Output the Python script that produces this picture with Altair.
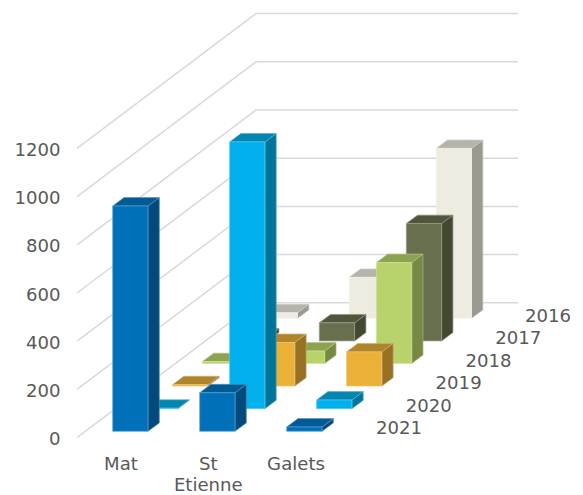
import altair as alt
import pandas as pd

# Tonnage per site, one list per year (back row first)
categories = ["Mat", "St Etienne", "Galets"]
years = ["2016", "2017", "2018", "2019", "2020", "2021"]
values_2016 = [23, 170, 705]
values_2017 = [17, 75, 487]
values_2018 = [8, 52, 419]
values_2019 = [6, 181, 142]
values_2020 = [2, 1107, 36]
values_2021 = [935, 160, 18]
series = [values_2016, values_2017, values_2018, values_2019, values_2020, values_2021]
ticks = [0, 200, 400, 600, 800, 1000, 1200]

# Front, side and top shades for each year
front = ["#EEECE1", "#676F4F", "#B8D36B", "#EAB037", "#00B0EC", "#0070B8"]
side = ["#9B9A91", "#434830", "#778A43", "#977023", "#007499", "#004B7C"]
top = ["#B5B3AA", "#4F563A", "#8DA34F", "#B08429", "#0086B0", "#005A94"]

# Oblique projection of the 3D box
UNIT = 0.241          # vertical length of one value unit
BAR_W = 35.3
BAR_DX, BAR_DY = 11.3, 8.4
CAT_STEP = 87.0
ROW_DX, ROW_DY = 29.9, 22.6
ORIGIN_X, ORIGIN_Y = 112.7, 431.3
WALL_DX, WALL_DY = 179.0, 134.8
GRID_X0, GRID_Y0, GRID_X1 = 77.0, 437.6, 518.0


def mix_white(color, share):
    rgb = [int(color[i:i + 2], 16) for i in (1, 3, 5)]
    return "#" + "".join(f"{round(c + (255 - c) * share):02x}" for c in rgb)


rows = []
face = 0


def add_face(points, fill):
    global face
    for px, py, py2 in points:
        rows.append({"x": px, "y": py, "y2": py2, "face": face,
                     "fill": fill, "edge": mix_white(fill, 0.35)})
    face += 1


# Painted back to front so nearer boxes cover farther ones
for r, vals in enumerate(series):
    depth = len(series) - 1 - r
    for c, v in enumerate(vals):
        x0 = ORIGIN_X + c * CAT_STEP + depth * ROW_DX
        base = ORIGIN_Y - depth * ROW_DY
        head = base - v * UNIT
        x1 = x0 + BAR_W
        add_face([(x1, head, base),
                  (x1 + BAR_DX, head - BAR_DY, base - BAR_DY)], side[r])
        add_face([(x0, head, head),
                  (x0 + BAR_DX, head - BAR_DY, head),
                  (x1, head - BAR_DY, head),
                  (x1 + BAR_DX, head - BAR_DY, head - BAR_DY)], top[r])
        add_face([(x0, head, base), (x1, head, base)], front[r])

boxes = pd.DataFrame(rows)

grid = pd.DataFrame([
    {"x": px, "y": py, "tick": t}
    for t in ticks
    for px, py in [
        (GRID_X0, GRID_Y0 - t * UNIT),
        (GRID_X0 + WALL_DX, GRID_Y0 - t * UNIT - WALL_DY),
        (GRID_X1, GRID_Y0 - t * UNIT - WALL_DY),
    ]
])

x_plane = alt.X("x:Q", scale=alt.Scale(domain=[0, 583], nice=False, zero=False), axis=None)
y_plane = alt.Y("y:Q", scale=alt.Scale(domain=[495, 0], nice=False, zero=False), axis=None)

grid_layer = alt.Chart(grid).mark_line(color="#D9D9D9", strokeWidth=1.5).encode(
    x=x_plane, y=y_plane, detail="tick:N", order=alt.Order("x:Q")
)

box_layer = alt.Chart(boxes).mark_area(strokeWidth=0.7, interpolate="linear").encode(
    x=x_plane,
    y=y_plane,
    y2="y2:Q",
    detail="face:N",
    fill=alt.Fill("fill:N", scale=None),
    stroke=alt.Stroke("edge:N", scale=None),
)

FONT = "DejaVu Sans"
INK = "#595959"
SIZE = 18.1

tick_labels = pd.DataFrame({
    "x": [60.5] * len(ticks),
    "y": [GRID_Y0 + 2.6 - t * UNIT for t in ticks],
    "label": [str(t) for t in ticks],
})
tick_layer = alt.Chart(tick_labels).mark_text(
    font=FONT, fontSize=SIZE, color=INK, align="right", baseline="middle"
).encode(x=x_plane, y=y_plane, text="label:N")

cat_labels = pd.DataFrame({
    "x": [121.0, 208.3, 208.3, 296.0],
    "y": [465.0, 465.0, 486.0, 465.0],
    "label": ["Mat", "St", "Etienne", "Galets"],
})
cat_layer = alt.Chart(cat_labels).mark_text(
    font=FONT, fontSize=SIZE, color=INK, align="center", baseline="middle"
).encode(x=x_plane, y=y_plane, text="label:N")

year_labels = pd.DataFrame({
    "x": [525.0 - (i * 29.8) for i in range(len(years))],
    "y": [317.0 + (i * 22.4) for i in range(len(years))],
    "label": years,
})
year_layer = alt.Chart(year_labels).mark_text(
    font=FONT, fontSize=SIZE, color=INK, align="left", baseline="middle"
).encode(x=x_plane, y=y_plane, text="label:N")

chart = (
    alt.layer(grid_layer, box_layer, tick_layer, cat_layer, year_layer)
    .properties(width=583, height=495, padding=0, autosize=alt.AutoSizeParams(type="none"),
                background="white")
    .configure_view(stroke=None)
)

chart.save("out.html", embed_options={"renderer": "svg", "actions": False})
